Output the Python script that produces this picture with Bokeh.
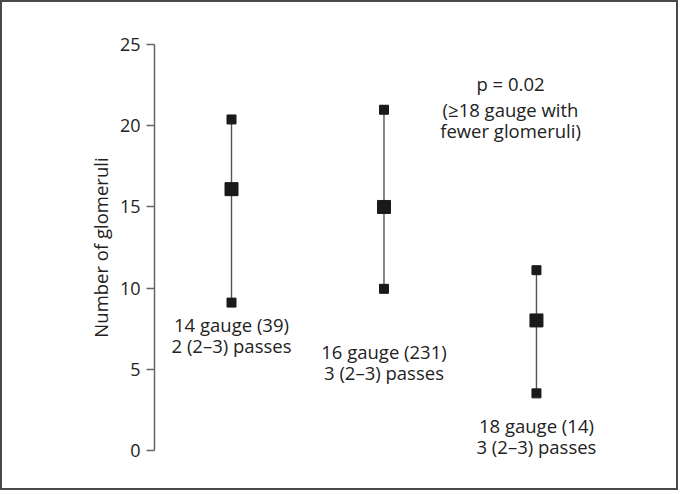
from bokeh.plotting import figure
from bokeh.models import ColumnDataSource, Range1d, LabelSet
from bokeh.core.properties import value
from bokeh.embed import file_html
from bokeh.resources import INLINE

# data
label_line1 = ["14 gauge (39)", "16 gauge (231)", "18 gauge (14)"]
label_line2 = ["2 (2\u20133) passes", "3 (2\u20133) passes", "3 (2\u20133) passes"]
group_x = [1, 2, 3]
median = [16.1, 15.0, 8.0]
upper = [20.4, 21.0, 11.1]
lower = [9.1, 9.95, 3.5]
label_y = [7.11, 5.44, 0.87]
y_ticks = [0, 5, 10, 15, 20, 25]
p_value_text = "p = 0.02"
note_line1 = "(\u226518 gauge with"
note_line2 = "fewer glomeruli)"

FONT = "Open Sans"
INK = "#222222"
FS = "18.5px"
HALF = 10.75

p = figure(width=678, height=490, output_backend="svg", toolbar_location=None,
           x_range=Range1d(0.495, 3.879), y_range=Range1d(-2, 27),
           min_border_left=152, min_border_right=10, min_border_top=10, min_border_bottom=10)
p.styles = {"border": "2px solid #4a4a4a"}
p.outline_line_color = None
p.xgrid.visible = False
p.ygrid.visible = False
p.xaxis.visible = False

ax = p.yaxis[0]
ax.ticker = y_ticks
ax.bounds = (0, 25)
ax.axis_label = "Number of glomeruli"
ax.axis_label_text_font = FONT
ax.axis_label_text_font_size = "18.5px"
ax.axis_label_text_font_style = "normal"
ax.axis_label_text_color = INK
ax.axis_label_standoff = 4
ax.major_label_text_font = FONT
ax.major_label_text_font_size = "18px"
ax.major_label_text_color = INK
ax.major_label_standoff = 6
ax.major_tick_out = 8
ax.major_tick_in = 0
ax.minor_tick_out = 0
ax.minor_tick_in = 0
ax.axis_line_color = "#666666"
ax.major_tick_line_color = "#666666"
ax.axis_line_width = 1.5
ax.major_tick_line_width = 1.5

src = ColumnDataSource(dict(x=group_x, med=median, up=upper, lo=lower,
                            l1=label_line1, l2=label_line2, ly=label_y))

p.segment(x0="x", y0="lo", x1="x", y1="up", source=src, line_color="#555555", line_width=1.4)
p.scatter(x="x", y="up", source=src, marker="square", size=9, fill_color="#1a1a1a", line_color="#1a1a1a")
p.scatter(x="x", y="lo", source=src, marker="square", size=9, fill_color="#1a1a1a", line_color="#1a1a1a")
p.scatter(x="x", y="med", source=src, marker="square", size=13, fill_color="#1a1a1a", line_color="#1a1a1a")

common = dict(text_font=value(FONT), text_font_size=value(FS), text_color=value(INK),
              text_align="center", text_baseline="middle")
p.add_layout(LabelSet(x="x", y="ly", text="l1", source=src, y_offset=HALF, **common))
p.add_layout(LabelSet(x="x", y="ly", text="l2", source=src, y_offset=-HALF, **common))

note_src = ColumnDataSource(dict(x=[2.83, 2.83, 2.83], y=[22.65, 20.36, 20.36],
                                 t=[p_value_text, note_line1, note_line2],
                                 off=[0, HALF, -HALF]))
p.add_layout(LabelSet(x="x", y="y", text="t", y_offset="off", source=note_src, **common))

open("out.html", "w").write(file_html(p, INLINE))
